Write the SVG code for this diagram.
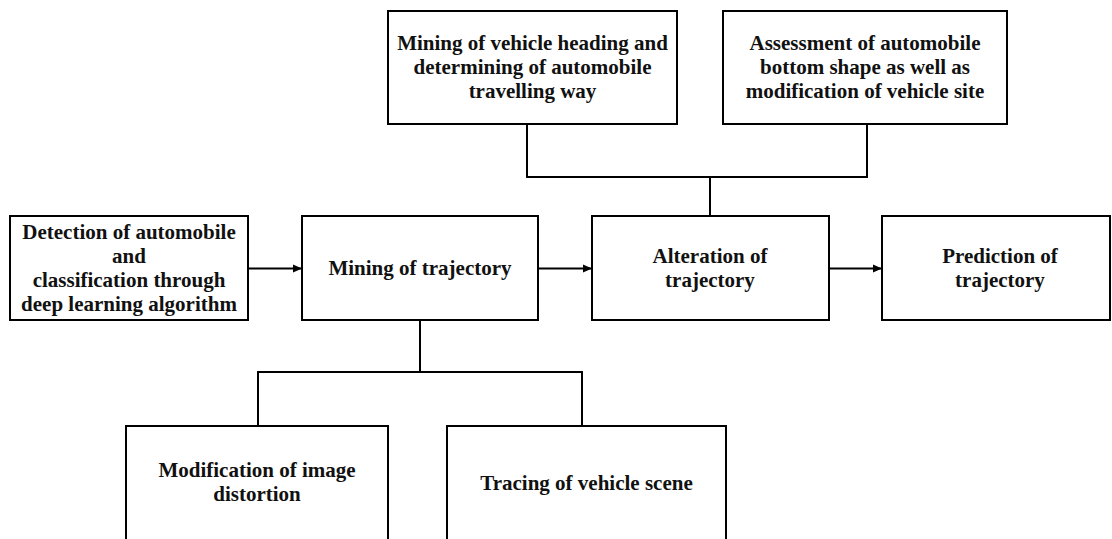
<svg xmlns="http://www.w3.org/2000/svg" width="1112" height="539" viewBox="0 0 1112 539">
<style>
.box{fill:#fff;stroke:#000;stroke-width:2}
.t{font-family:"Liberation Serif","Times New Roman",serif;font-weight:bold;font-size:21px;text-anchor:middle;fill:#111}
.c{fill:none;stroke:#000;stroke-width:2}
</style>
<defs>
<marker id="arr" markerWidth="10" markerHeight="10" refX="9" refY="5" orient="auto" markerUnits="userSpaceOnUse">
<path d="M0,1 L9,5 L0,9 Z" fill="#000"/>
</marker>
</defs>
<rect width="1112" height="539" fill="#fff"/>
<g id="connectors">
<line class="c" x1="248" y1="268.5" x2="302" y2="268.5" marker-end="url(#arr)"/>
<line class="c" x1="538" y1="268.5" x2="592" y2="268.5" marker-end="url(#arr)"/>
<line class="c" x1="829" y1="268.5" x2="882" y2="268.5" marker-end="url(#arr)"/>
<polyline class="c" points="527,124 527,177 867,177 867,124"/>
<line class="c" x1="710" y1="177" x2="710" y2="216"/>
<line class="c" x1="420" y1="320" x2="420" y2="372"/>
<polyline class="c" points="258,426 258,372 582,372 582,426"/>
</g>
<g id="detection">
<rect class="box" x="10" y="216" width="238" height="104"/>
<text class="t" x="129" y="239">Detection of automobile</text>
<text class="t" x="129" y="263">and</text>
<text class="t" x="129" y="287">classification through</text>
<text class="t" x="129" y="311">deep learning algorithm</text>
</g>
<g id="mining">
<rect class="box" x="302" y="216" width="236" height="104"/>
<text class="t" x="420" y="275">Mining of trajectory</text>
</g>
<g id="alteration">
<rect class="box" x="592" y="216" width="237" height="104"/>
<text class="t" x="710" y="263">Alteration of</text>
<text class="t" x="710" y="287">trajectory</text>
</g>
<g id="prediction">
<rect class="box" x="882" y="216" width="228" height="104"/>
<text class="t" x="1000" y="263">Prediction of</text>
<text class="t" x="1000" y="287">trajectory</text>
</g>
<g id="heading">
<rect class="box" x="388" y="11" width="289" height="113"/>
<text class="t" x="532.5" y="50">Mining of vehicle heading and</text>
<text class="t" x="532.5" y="74">determining of automobile</text>
<text class="t" x="532.5" y="98">travelling way</text>
</g>
<g id="assessment">
<rect class="box" x="723" y="11" width="284" height="113"/>
<text class="t" x="865" y="50">Assessment of automobile</text>
<text class="t" x="865" y="74">bottom shape as well as</text>
<text class="t" x="865" y="98">modification of vehicle site</text>
</g>
<g id="distortion">
<rect class="box" x="126" y="426" width="262" height="140"/>
<text class="t" x="257" y="477">Modification of image</text>
<text class="t" x="257" y="501">distortion</text>
</g>
<g id="tracing">
<rect class="box" x="447" y="426" width="279" height="140"/>
<text class="t" x="586.5" y="490">Tracing of vehicle scene</text>
</g>
</svg>
